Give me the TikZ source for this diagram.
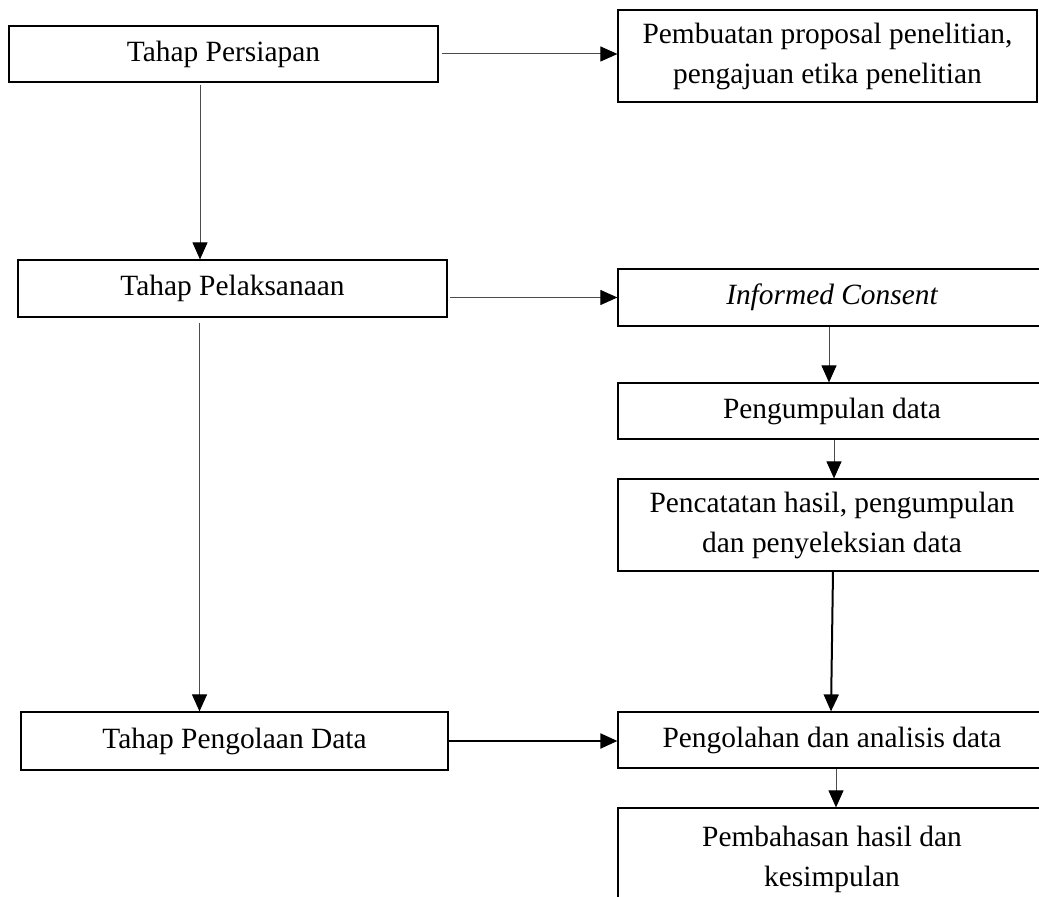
\documentclass[tikz,border=0pt]{standalone}
\usepackage{fontspec}
\setmainfont{Liberation Serif}
\usetikzlibrary{arrows.meta}
\tikzset{
  box/.style={draw, line width=0.6pt, inner sep=0pt, align=center, font=\fontsize{14.7}{20}\selectfont},
  conn/.style={-{Triangle[length=8.5pt,width=7.5pt,color=black]}, line width=0.5pt, black!70},
  bold conn/.style={-{Triangle[length=8.5pt,width=7.5pt]}, line width=1pt, black}
}
\begin{document}
\begin{tikzpicture}[x=0.5pt, y=-0.5pt]
\useasboundingbox (0,0) rectangle (1039,897);
\clip (0,0) rectangle (1039,897);
\node[box, minimum width=214.5pt, minimum height=28pt] (persiapan) at (223.5,54) {Tahap Persiapan};
\node[box, minimum width=214.5pt, minimum height=28.5pt] (pelaksanaan) at (232.5,288.5) {Tahap Pelaksanaan};
\node[box, minimum width=213.5pt, minimum height=29pt] (pengolaan) at (234.5,741) {Tahap Pengolaan Data};
\node[box, minimum width=209.5pt, minimum height=46pt] (pembuatan) at (827.5,56) {Pembuatan proposal penelitian,\\pengajuan etika penelitian};
\node[box, minimum width=214pt, minimum height=28.5pt] (informed) at (832,297.5) {\itshape Informed Consent};
\node[box, minimum width=214pt, minimum height=28pt] (pengumpulan) at (832,411) {Pengumpulan data};
\node[box, minimum width=214pt, minimum height=46pt] (pencatatan) at (832,525) {Pencatatan hasil, pengumpulan\\dan penyeleksian data};
\node[box, minimum width=214pt, minimum height=28pt] (pengolahan) at (832,740) {Pengolahan dan analisis data};
\node[box, minimum width=214pt, minimum height=51pt] (pembahasan) at (832,859) {Pembahasan hasil dan\\kesimpulan};
\coordinate (leftline) at (200,0);
\draw[conn] ([xshift=1.5pt]persiapan.east) -- (persiapan.east -| pembuatan.west);
\draw[conn] ([yshift=-1pt]persiapan.south -| leftline) -- (pelaksanaan.north -| leftline);
\draw[conn] (informed.west -| pelaksanaan.east) ++(1pt,0) -- (informed.west);
\draw[conn] ([yshift=-2.5pt]pelaksanaan.south -| leftline) ++(-0.5,0) -- ([xshift=-0.25pt]pengolaan.north -| leftline);
\draw[conn] ([xshift=-1.5pt]informed.south) -- ([xshift=-1.5pt]pengumpulan.north);
\draw[conn] ([xshift=1pt]pengumpulan.south) -- ([xshift=1pt]pencatatan.north);
\draw[bold conn] ([xshift=0.5pt]pencatatan.south) -- ([xshift=-0.5pt]pengolahan.north);
\draw[bold conn] (pengolaan.east) -- (pengolaan.east -| pengolahan.west);
\draw[conn] ([xshift=2pt]pengolahan.south) -- ([xshift=2pt]pembahasan.north);
\end{tikzpicture}
\end{document}
